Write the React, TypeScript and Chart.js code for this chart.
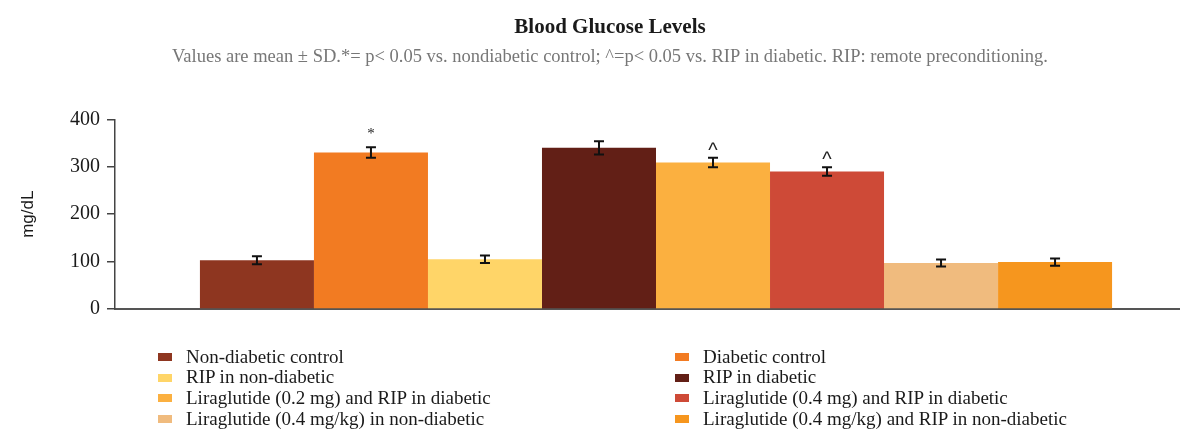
import React, { useEffect, useRef } from "react";
import { Chart, registerables } from "chart.js";

Chart.register(...registerables);

const categories = [""];
const seriesNames = [
  "Non-diabetic control",
  "Diabetic control",
  "RIP in non-diabetic",
  "RIP in diabetic",
  "Liraglutide (0.2 mg) and RIP in diabetic",
  "Liraglutide (0.4 mg) and RIP in diabetic",
  "Liraglutide (0.4 mg/kg) in non-diabetic",
  "Liraglutide (0.4 mg/kg) and RIP in non-diabetic",
];
const meanValues = [103, 330, 105, 340, 309, 290, 97, 99];
const sdValues = [8.5, 11, 8, 14, 10, 9, 7.5, 7.5];
const sigMarks = ["", "*", "", "", "^", "^", "", ""];
const seriesColors = [
  "#8E3620",
  "#F27B22",
  "#FFD568",
  "#621F16",
  "#FBB040",
  "#CE4A37",
  "#F0BB7E",
  "#F6961E",
];
const yTickValues = [0, 100, 200, 300, 400];

const titleText = "Blood Glucose Levels";
const subtitleText =
  "Values are mean ± SD.*= p< 0.05 vs. nondiabetic control; ^=p< 0.05 vs. RIP in diabetic. RIP: remote preconditioning.";
const yAxisTitle = "mg/dL";

const SERIF = "'Liberation Serif', 'DejaVu Serif', serif";
const SANS = "'Liberation Sans', 'DejaVu Sans', sans-serif";

const errorBarPlugin = {
  id: "errorBars",
  afterDatasetsDraw(chart: any) {
    const ctx = chart.ctx;
    const yScale = chart.scales.y;
    ctx.save();
    chart.data.datasets.forEach((ds: any, i: number) => {
      const meta = chart.getDatasetMeta(i);
      if (!meta || meta.hidden) return;
      const el = meta.data[0];
      if (!el) return;
      const x = el.x;
      const mean = meanValues[i];
      const sd = sdValues[i];
      const yTop = yScale.getPixelForValue(mean + sd);
      const yBot = yScale.getPixelForValue(mean - sd);
      ctx.strokeStyle = "#111";
      ctx.lineWidth = 2;
      ctx.beginPath();
      ctx.moveTo(x, yTop);
      ctx.lineTo(x, yBot);
      ctx.moveTo(x - 5, yTop);
      ctx.lineTo(x + 5, yTop);
      ctx.moveTo(x - 5, yBot);
      ctx.lineTo(x + 5, yBot);
      ctx.stroke();
      const mark = sigMarks[i];
      if (mark) {
        ctx.fillStyle = "#222";
        ctx.textAlign = "center";
        if (mark === "*") {
          ctx.textBaseline = "middle";
          ctx.font = `15px ${SERIF}`;
          ctx.fillText(mark, x, yTop - 13);
        } else {
          ctx.textBaseline = "alphabetic";
          ctx.font = `20px ${SANS}`;
          ctx.fillText(mark, x, yTop - 1);
        }
      }
    });
    ctx.restore();
  },
};

export default function App() {
  const canvasRef = useRef<HTMLCanvasElement | null>(null);

  useEffect(() => {
    if (!canvasRef.current) return;
    const chart = new Chart(canvasRef.current, {
      type: "bar",
      data: {
        labels: categories,
        datasets: seriesNames.map((name, i) => ({
          label: name,
          data: [meanValues[i]],
          backgroundColor: seriesColors[i],
          borderWidth: 0,
          categoryPercentage: 0.843,
          barPercentage: 1,
        })),
      },
      options: {
        responsive: false,
        animation: false,
        layout: { padding: { top: 0, right: 21, bottom: 112, left: 23 } },
        plugins: {
          legend: { display: false },
          tooltip: { enabled: false },
          title: {
            display: true,
            text: titleText,
            color: "#1a1a1a",
            font: { family: SERIF, size: 21, weight: "bold" },
            padding: { top: 15, bottom: 6 },
          },
          subtitle: {
            display: true,
            text: subtitleText,
            color: "#777",
            font: { family: SERIF, size: 18.5 },
            padding: { top: 0, bottom: 51 },
          },
        },
        scales: {
          x: {
            type: "category",
            grid: { display: false },
            ticks: { display: false },
            border: { display: true, color: "#555", width: 2 },
          },
          y: {
            min: 0,
            max: 400,
            afterBuildTicks: (scale: any) => {
              scale.ticks = yTickValues.map((v) => ({ value: v }));
            },
            afterFit: (scale: any) => {
              scale.width = 92;
            },
            ticks: {
              color: "#1a1a1a",
              font: { family: SERIF, size: 20 },
              padding: 7,
            },
            grid: {
              drawOnChartArea: false,
              drawTicks: true,
              tickLength: 8,
              color: "#444",
              lineWidth: 1.5,
            },
            border: { display: true, color: "#444", width: 1.5 },
            title: {
              display: true,
              text: yAxisTitle,
              color: "#1a1a1a",
              font: { family: SANS, size: 17 },
              padding: { top: -5, bottom: 0 },
            },
          },
        },
      },
      plugins: [errorBarPlugin],
    } as any);
    return () => chart.destroy();
  }, []);

  const legendRowH = 20.6;

  return (
    <div
      style={{
        position: "fixed",
        left: 0,
        top: 0,
        width: 1180,
        height: 429,
        overflow: "hidden",
        background: "#fff",
      }}
    >
      <canvas
        ref={canvasRef}
        width={1218}
        height={429}
        style={{ display: "block", width: 1218, height: 429 }}
      />
      {seriesNames.map((name, i) => {
        const col = i % 2;
        const row = Math.floor(i / 2);
        return (
          <div
            key={name}
            style={{
              position: "absolute",
              left: col === 0 ? 158 : 675,
              top: 346.7 + row * legendRowH,
              height: legendRowH,
              lineHeight: `${legendRowH}px`,
              fontFamily: SERIF,
              fontSize: 19,
              color: "#1a1a1a",
              whiteSpace: "nowrap",
              display: "flex",
              alignItems: "center",
            }}
          >
            <span
              style={{
                display: "inline-block",
                width: 14,
                height: 8,
                background: seriesColors[i],
                marginRight: 14,
              }}
            />
            <span>{name}</span>
          </div>
        );
      })}
    </div>
  );
}
